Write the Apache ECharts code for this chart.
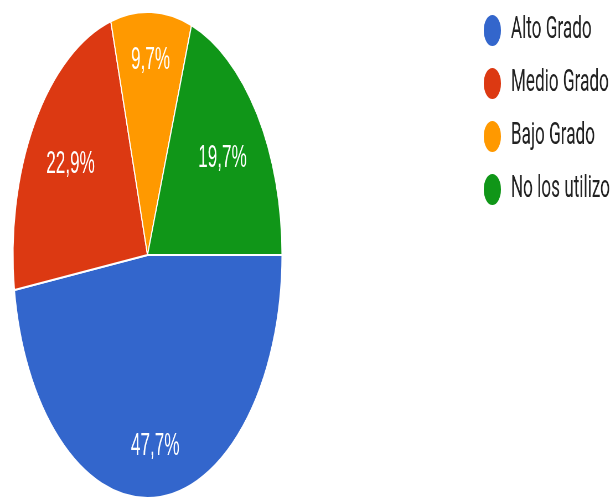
<!DOCTYPE html>
<html>
<head>
<meta charset="utf-8">
<script src="https://cdn.jsdelivr.net/npm/echarts@6/dist/echarts.min.js"></script>
<style>
  html, body { margin: 0; padding: 0; background: #ffffff; overflow: hidden; width: 611px; height: 497px; }
  /* The reference is a Google-style pie squeezed horizontally; draw it at full width and squeeze it the same way */
  #chart { position: absolute; left: 0; top: 0; width: 1104px; height: 497px; transform: scaleX(0.5535); transform-origin: 0 0; }
</style>
</head>
<body>
<div id="chart"></div>
<script>
const categories = ['Alto Grado', 'Medio Grado', 'Bajo Grado', 'No los utilizo'];
const values = [47.7, 22.9, 9.7, 19.7];
const colors = ['#3366cc', '#dc3912', '#ff9900', '#109618'];

const data = categories.map((c, i) => ({ name: c, value: values[i] }));

const CX = 266.5, CY = 255, R = 243;
const START = 0;               // first slice starts at 3 o'clock, clockwise
const LABEL_REACH = 211;       // outer corner of each label box sits on this radius (Google-style)

const total = values.reduce((a, b) => a + b, 0);
function midDir(i) {
  let before = 0;
  for (let k = 0; k < i; k++) before += values[k];
  const deg = START - (before + values[i] / 2) / total * 360;
  const rad = deg * Math.PI / 180;
  return [Math.cos(rad), -Math.sin(rad)];
}

const chart = echarts.init(document.getElementById('chart'), null, { renderer: 'canvas' });
chart.setOption({
  animation: false,
  color: colors,
  legend: {
    orient: 'vertical',
    left: 867,
    top: 8,
    icon: 'circle',
    itemWidth: 33,
    itemHeight: 33,
    itemGap: 18,
    selectedMode: false,
    textStyle: { fontSize: 31, lineHeight: 33, fontFamily: 'Roboto', color: '#222222', padding: [0, 0, 0, 12] },
    data: categories
  },
  series: [
    {
      type: 'pie',
      center: [CX, CY],
      radius: R,
      startAngle: START,
      clockwise: true,
      silent: true,
      itemStyle: { borderColor: '#ffffff', borderWidth: 2 },
      label: {
        show: true,
        position: 'inside',
        formatter: p => p.value.toFixed(1).replace('.', ',') + '%',
        color: '#ffffff',
        fontSize: 31,
        fontFamily: 'Liberation Sans'
      },
      labelLine: { show: false },
      labelLayout: function (params) {
        const d = midDir(params.dataIndex);
        const hw = params.labelRect.width / 2, hh = params.labelRect.height / 2;
        const dist = LABEL_REACH - (hw * Math.abs(d[0]) + hh * Math.abs(d[1]));
        return { x: CX + dist * d[0], y: CY + dist * d[1], align: 'center', verticalAlign: 'middle' };
      },
      data: data
    }
  ]
});
</script>
</body>
</html>
